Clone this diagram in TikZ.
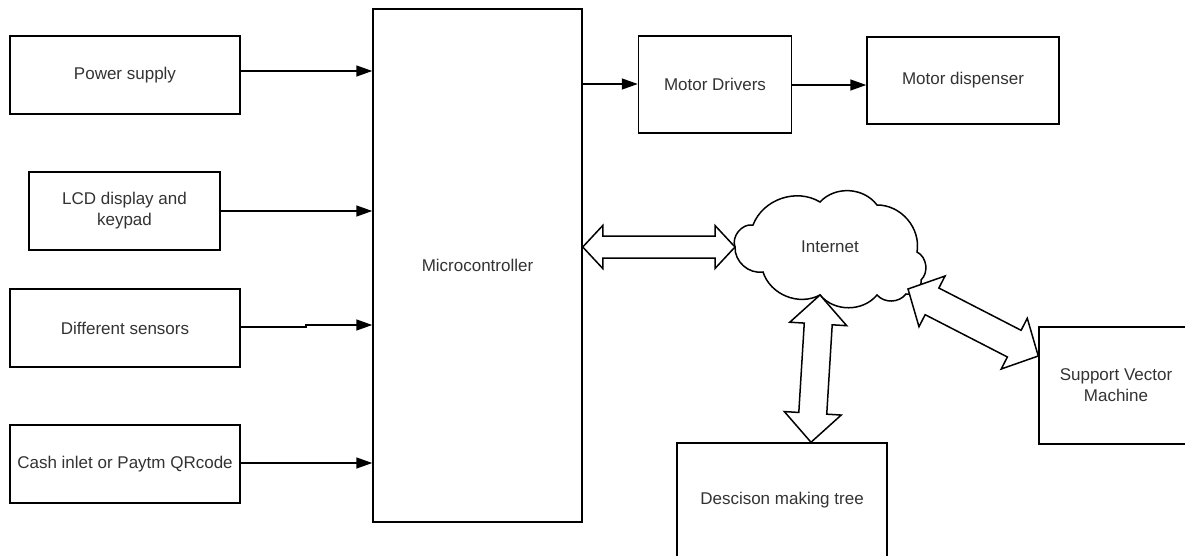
\documentclass[tikz,border=0pt]{standalone}
\usepackage{fontspec}
\setmainfont{Liberation Sans}
\usetikzlibrary{arrows.meta,calc}
\definecolor{txt}{RGB}{51,51,51}
\newcommand\fatarrow[5]{%
  \coordinate (fa1) at ($(#1)!#3!(#2)$);
  \coordinate (fa2) at ($(#2)!#3!(#1)$);
  \draw[fat] (#1) -- ($(fa1)!#4!90:(#2)$) -- ($(fa1)!#5!90:(#2)$)
    -- ($(fa2)!#5!-90:(#1)$) -- ($(fa2)!#4!-90:(#1)$) -- (#2)
    -- ($(fa2)!#4!90:(#1)$) -- ($(fa2)!#5!90:(#1)$)
    -- ($(fa1)!#5!-90:(#2)$) -- ($(fa1)!#4!-90:(#2)$) -- cycle;}
\begin{document}
\begin{tikzpicture}[x=1pt,y=1pt,
  box/.style={draw=black,line width=1.5pt,fill=white,inner sep=0pt,
    text=txt,align=center,font=\fontsize{17pt}{21pt}\selectfont},
  conn/.style={draw=black,line width=1.5pt,-{Triangle[length=16pt,width=11pt]}},
  fat/.style={draw=black,line width=1.5pt,fill=white,line join=miter},
  cloudline/.style={draw=black,line width=1.5pt,fill=white}]
\useasboundingbox (0,0) rectangle (1185,-556);
% boxes
\node[box,minimum width=230pt,minimum height=78pt] (ps) at (125,-75) {Power supply};
\node[box,minimum width=191pt,minimum height=78pt] (lcd) at (124.5,-211) {LCD display and\\keypad};
\node[box,minimum width=230pt,minimum height=78pt] (ds) at (125,-328) {Different sensors};
\node[box,minimum width=230pt,minimum height=78pt] (cash) at (125,-464) {Cash inlet or Paytm QRcode};
\node[box,minimum width=209pt,minimum height=513pt] (mc) at (477.5,-265.5) {Microcontroller};
\node[box,minimum width=153pt,minimum height=97pt] (md) at (715,-84.5) {Motor Drivers};
\node[box,minimum width=192pt,minimum height=87pt] (mdisp) at (963,-80.5) {Motor dispenser};
\node[box,minimum width=210pt,minimum height=114pt] (dmt) at (782,-500) {Descison making tree};
\node[box,minimum width=154pt,minimum height=117pt] (svm) at (1116,-385.5) {Support Vector\\Machine};
% cloud
\draw[cloudline] (735,-247) to[bend left=60] (753,-225) to[bend left=50] (820,-202)
  to[bend left=50] (877,-205) to[bend left=50] (917,-252) to[bend left=55] (921,-280)
  to[bend left=55] (906,-294) to[bend left=50] (877,-295) to[bend left=50] (820,-295)
  to[bend left=50] (763,-272) to[bend left=50] (735,-247) -- cycle;
\node[text=txt,font=\fontsize{17pt}{21pt}\selectfont] (inet) at (830,-247) {Internet};
\coordinate (cw) at (735,-247);
\coordinate (cs) at (820,-295);
\coordinate (cse) at (908,-289);
% connectors
\draw[conn] ([yshift=4pt]ps.east) -- ([yshift=4pt]ps.east -| mc.west);
\draw[conn] (lcd.east) -- (lcd.east -| mc.west);
\coordinate (dsj) at ([xshift=65pt,yshift=3pt]ds.east);
\draw[conn] ([yshift=1pt]ds.east) -- ([yshift=1pt]ds.east -| dsj) -- (dsj) -- (dsj -| mc.west);
\draw[conn] ([yshift=1pt]cash.east) -- ([yshift=1pt]cash.east -| mc.west);
\draw[conn] ([yshift=0.5pt]md.west -| mc.east) -- ([yshift=0.5pt]md.west);
\draw[conn] ([yshift=-0.5pt]md.east) -- ([yshift=-0.5pt]md.east -| mdisp.west);
% fat double arrows
\coordinate (mce) at (mc.east |- cw);
\fatarrow{mce}{cw}{20pt}{21.5pt}{11pt}
\coordinate (dmtn) at ([xshift=29pt]dmt.north);
\fatarrow{cs}{dmtn}{29pt}{28.5pt}{14pt}
\coordinate (svmw) at ([yshift=29.5pt]svm.west);
\fatarrow{cse}{svmw}{27pt}{28.5pt}{15pt}
\end{tikzpicture}
\end{document}
